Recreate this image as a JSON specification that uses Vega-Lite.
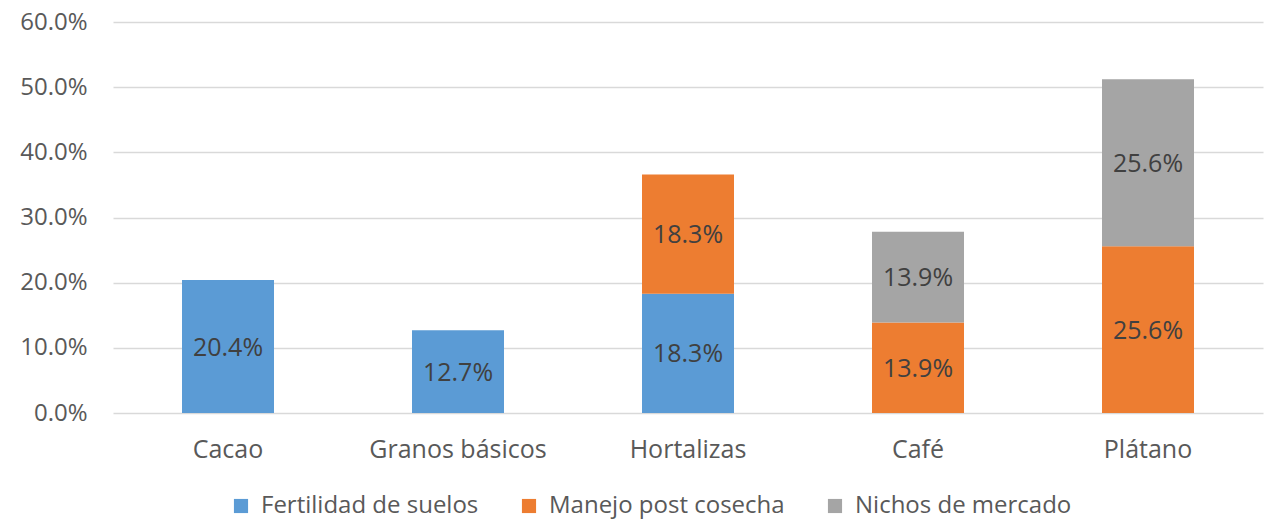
{
  "$schema": "https://vega.github.io/schema/vega-lite/v6.json",
  "width": 1150,
  "height": 391,
  "autosize": {"type": "none"},
  "padding": {"left": 113, "top": 22, "right": 5, "bottom": 110},
  "background": "white",
  "config": {
    "view": {"stroke": null},
    "font": "Open Sans",
    "axis": {"labelFont": "Open Sans", "labelFontSize": 24, "labelColor": "#595959"},
    "legend": {"labelFont": "Open Sans", "labelFontSize": 24, "labelColor": "#595959"}
  },
  "data": {
    "values": [
      {"cultivo": "Cacao", "tema": "Fertilidad de suelos", "valor": 0.204},
      {"cultivo": "Granos básicos", "tema": "Fertilidad de suelos", "valor": 0.127},
      {"cultivo": "Hortalizas", "tema": "Fertilidad de suelos", "valor": 0.183},
      {"cultivo": "Hortalizas", "tema": "Manejo post cosecha", "valor": 0.183},
      {"cultivo": "Café", "tema": "Manejo post cosecha", "valor": 0.139},
      {"cultivo": "Café", "tema": "Nichos de mercado", "valor": 0.139},
      {"cultivo": "Plátano", "tema": "Manejo post cosecha", "valor": 0.256},
      {"cultivo": "Plátano", "tema": "Nichos de mercado", "valor": 0.256}
    ]
  },
  "transform": [
    {"stack": "valor", "groupby": ["cultivo"], "sort": [{"field": "tema", "order": "ascending"}], "as": ["y0", "y1"]},
    {"calculate": "(datum.y0 + datum.y1) / 2", "as": "ymid"}
  ],
  "encoding": {
    "x": {
      "field": "cultivo",
      "type": "nominal",
      "sort": ["Cacao", "Granos básicos", "Hortalizas", "Café", "Plátano"],
      "scale": {"paddingInner": 0.6, "paddingOuter": 0.3},
      "axis": {"title": null, "labelAngle": 0, "domain": false, "ticks": false, "labelPadding": 24, "labelFontSize": 25, "grid": false, "labelOverlap": false, "labelLimit": 0}
    }
  },
  "layer": [
    {
      "mark": {"type": "bar"},
      "encoding": {
        "y": {
          "field": "y0",
          "type": "quantitative",
          "scale": {"domain": [0, 0.6]},
          "axis": {
            "title": null,
            "format": ".1%",
            "values": [0, 0.1, 0.2, 0.3, 0.4, 0.5, 0.6],
            "labelOverlap": false,
            "domain": false,
            "ticks": false,
            "labelPadding": 26,
            "grid": true,
            "gridColor": "#D9D9D9",
            "gridWidth": 1.3
          }
        },
        "y2": {"field": "y1"},
        "color": {
          "field": "tema",
          "type": "nominal",
          "scale": {
            "domain": ["Fertilidad de suelos", "Manejo post cosecha", "Nichos de mercado"],
            "range": ["#5B9BD5", "#ED7D31", "#A5A5A5"]
          },
          "legend": {
            "title": null,
            "orient": "none",
            "legendX": 116,
            "legendY": 472,
            "direction": "horizontal",
            "symbolType": "square",
            "symbolSize": 200,
            "symbolStrokeWidth": 0,
            "labelOffset": 8,
            "labelLimit": 0,
            "columnPadding": 38
          }
        }
      }
    },
    {
      "mark": {"type": "text", "fontSize": 25, "color": "#404040", "font": "Open Sans", "baseline": "middle", "dy": 1},
      "encoding": {
        "y": {"field": "ymid", "type": "quantitative"},
        "text": {"field": "valor", "type": "quantitative", "format": ".1%"}
      }
    }
  ]
}
